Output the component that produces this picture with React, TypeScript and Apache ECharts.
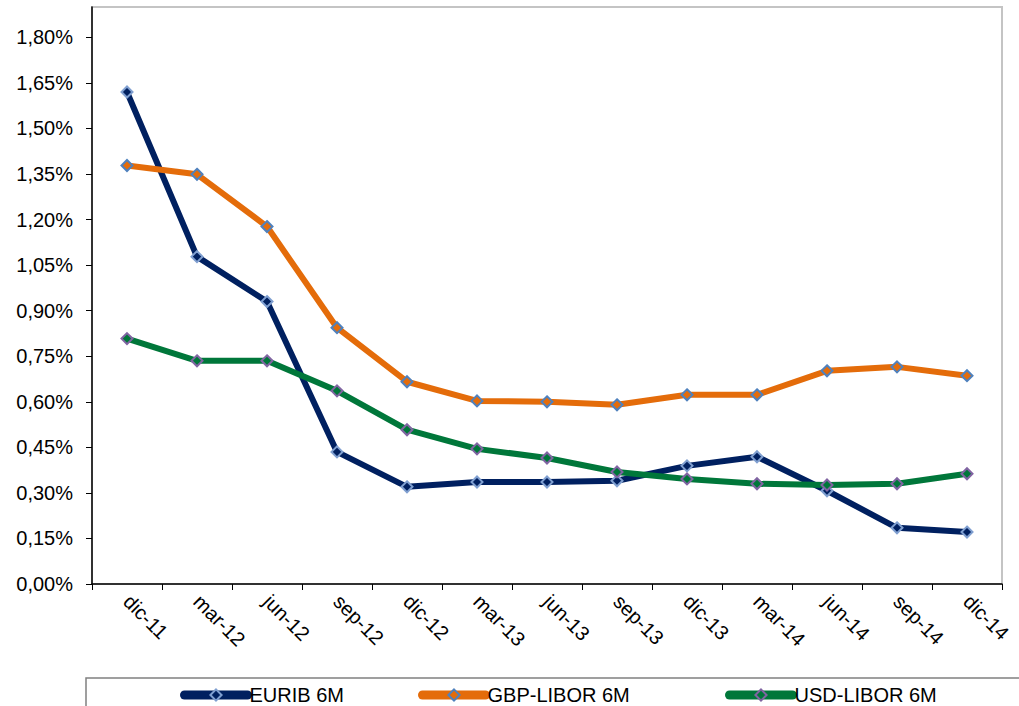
import React, { useEffect, useRef } from "react";
import * as echarts from "echarts";

const categories = ["dic-11", "mar-12", "jun-12", "sep-12", "dic-12", "mar-13", "jun-13", "sep-13", "dic-13", "mar-14", "jun-14", "sep-14", "dic-14"];
const euribor = [1.62, 1.078, 0.93, 0.435, 0.32, 0.336, 0.336, 0.34, 0.389, 0.419, 0.307, 0.185, 0.171];
const gbpLibor = [1.378, 1.349, 1.177, 0.844, 0.666, 0.603, 0.6, 0.59, 0.623, 0.623, 0.702, 0.715, 0.686];
const usdLibor = [0.808, 0.735, 0.735, 0.636, 0.508, 0.445, 0.415, 0.369, 0.346, 0.33, 0.326, 0.33, 0.363];
const yTicks = [0, 0.15, 0.3, 0.45, 0.6, 0.75, 0.9, 1.05, 1.2, 1.35, 1.5, 1.65, 1.8];

const FONT = "Liberation Sans, Arial, sans-serif";

export default function App() {
  const ref = useRef<HTMLDivElement>(null);
  useEffect(() => {
    if (!ref.current) return;
    const chart = echarts.init(ref.current, undefined, { renderer: "svg" });
    const mk = (name: string, data: number[], color: string, border: string) => ({
      name,
      type: "line",
      data,
      symbol: "diamond",
      symbolSize: 11,
      lineStyle: { color, width: 6 },
      itemStyle: { color, borderColor: border, borderWidth: 2 },
      emphasis: { disabled: true },
    });
    const legendBase = {
      top: 680,
      itemWidth: 63,
      itemHeight: 14,
      itemGap: 2,
      lineStyle: { width: 9, cap: "round" },
      itemStyle: { borderWidth: 2 },
      textStyle: { fontFamily: FONT, fontSize: 20, lineHeight: 20, color: "#000", padding: [0, 0, 0, -3] },
    };
    chart.setOption({
      animation: false,
      grid: {
        left: 92,
        top: 7,
        right: 17,
        bottom: 122,
        show: true,
        borderColor: "#c4c4c4",
        borderWidth: 2,
      },
      xAxis: {
        type: "category",
        data: categories,
        boundaryGap: true,
        axisLine: { lineStyle: { color: "#000", width: 1.5 } },
        axisTick: { show: true, length: 6, lineStyle: { color: "#000" } },
        axisLabel: {
          rotate: -45,
          interval: 0,
          margin: 14,
          fontFamily: FONT,
          fontSize: 20,
          color: "#000",
        },
        splitLine: { show: false },
      },
      yAxis: {
        type: "value",
        min: 0,
        max: 1.9,
        interval: 0.15,
        axisLine: { show: true, lineStyle: { color: "#000", width: 1.5 } },
        axisTick: { show: true, length: 6, lineStyle: { color: "#000" }, customValues: yTicks },
        axisLabel: {
          customValues: yTicks,
          margin: 19,
          fontFamily: FONT,
          fontSize: 20,
          color: "#000",
          formatter: (v: number) => v.toFixed(2).replace(".", ",") + "%",
        },
        splitLine: { show: false },
      },
      legend: [
        { ...legendBase, left: 175, data: ["EURIB 6M"] },
        { ...legendBase, left: 413, data: ["GBP-LIBOR 6M"] },
        { ...legendBase, left: 720, data: ["USD-LIBOR 6M"] },
      ],
      graphic: [
        {
          type: "rect",
          shape: { x: 86, y: 678, width: 1000, height: 60 },
          style: { fill: "none", stroke: "#808080", lineWidth: 1.5 },
          silent: true,
        },
      ],
      series: [
        mk("EURIB 6M", euribor, "#002060", "#7f9fd0"),
        mk("GBP-LIBOR 6M", gbpLibor, "#e46c0a", "#4f81bd"),
        mk("USD-LIBOR 6M", usdLibor, "#00773a", "#8064a2"),
      ],
    });
    return () => chart.dispose();
  }, []);
  return <div ref={ref} style={{ position: "absolute", left: 0, top: 0, width: 1019, height: 706 }} />;
}
